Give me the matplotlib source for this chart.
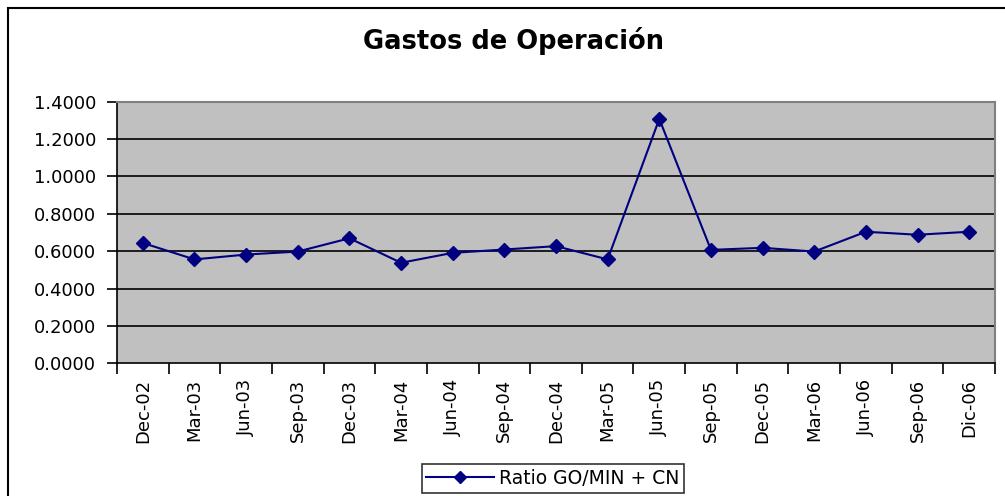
import matplotlib
matplotlib.use("Agg")
import matplotlib.pyplot as plt
from matplotlib.patches import Rectangle
import numpy as np

categories = ["Dec-02", "Mar-03", "Jun-03", "Sep-03", "Dec-03", "Mar-04", "Jun-04",
              "Sep-04", "Dec-04", "Mar-05", "Jun-05", "Sep-05", "Dec-05", "Mar-06",
              "Jun-06", "Sep-06", "Dic-06"]
ratio = [0.644, 0.556, 0.582, 0.598, 0.669, 0.538, 0.591, 0.609, 0.627, 0.556,
         1.308, 0.607, 0.618, 0.598, 0.704, 0.688, 0.704]
y_ticks = [0.0, 0.2, 0.4, 0.6, 0.8, 1.0, 1.2, 1.4]
series_name = "Ratio GO/MIN + CN"
title = "Gastos de Operación"

plt.rcParams['font.family'] = ['DejaVu Sans']
fig = plt.figure(figsize=(10.05, 4.96), dpi=100)
W, H = 1005, 496

# figure border (extends beyond the image on right/bottom)
fig.patches.append(Rectangle((8 / W, -0.1), 1.1, 1 - 8 / H + 0.1, transform=fig.transFigure,
                             fill=False, edgecolor='black', linewidth=1.5))

ax = fig.add_axes([117 / W, (H - 363.3) / H, (995 - 117) / W, (363.3 - 101.7) / H])
ax.set_facecolor('#C0C0C0')
x = np.arange(len(categories))
ax.plot(x, ratio, color='#000080', linewidth=1.5, marker='D', markersize=7,
        markerfacecolor='#000080', markeredgecolor='#000080', label=series_name, zorder=3)

ax.set_ylim(0, 1.4)
ax.set_yticks(y_ticks)
ax.set_yticklabels([f"{v:.4f}" for v in y_ticks], fontsize=13)
for v in y_ticks[1:-1]:
    ax.axhline(v, color='black', linewidth=1.2, zorder=1)

ax.set_xlim(-0.5, len(categories) - 0.5)
ax.set_xticks(np.arange(len(categories) + 1) - 0.5)
ax.set_xticklabels([])
ax.set_xticks(x, minor=True)
ax.set_xticklabels(categories, minor=True, rotation=90, fontsize=13)
ax.tick_params(axis='x', which='major', direction='out', length=8, width=1.2)
ax.tick_params(axis='x', which='minor', length=0, pad=11)
ax.tick_params(axis='y', direction='out', length=7, width=1.2, pad=8)

for s in ['left', 'bottom']:
    ax.spines[s].set_color('black')
    ax.spines[s].set_linewidth(1.2)
for s in ['top', 'right']:
    ax.spines[s].set_color('#808080')
    ax.spines[s].set_linewidth(1.5)

fig.text(513 / W, 1 - 41 / H, title, ha='center', va='center', fontsize=18.5, fontweight='bold')

leg = fig.legend(loc='center', bbox_to_anchor=(553 / W, 1 - 478.5 / H), frameon=True,
                 fontsize=13.5, fancybox=False, edgecolor='black', handlelength=3.6,
                 borderpad=0.25, handletextpad=0.3, borderaxespad=0, markerscale=0.9)
leg.get_frame().set_linewidth(1.2)

fig.savefig("out.png", dpi=100)
